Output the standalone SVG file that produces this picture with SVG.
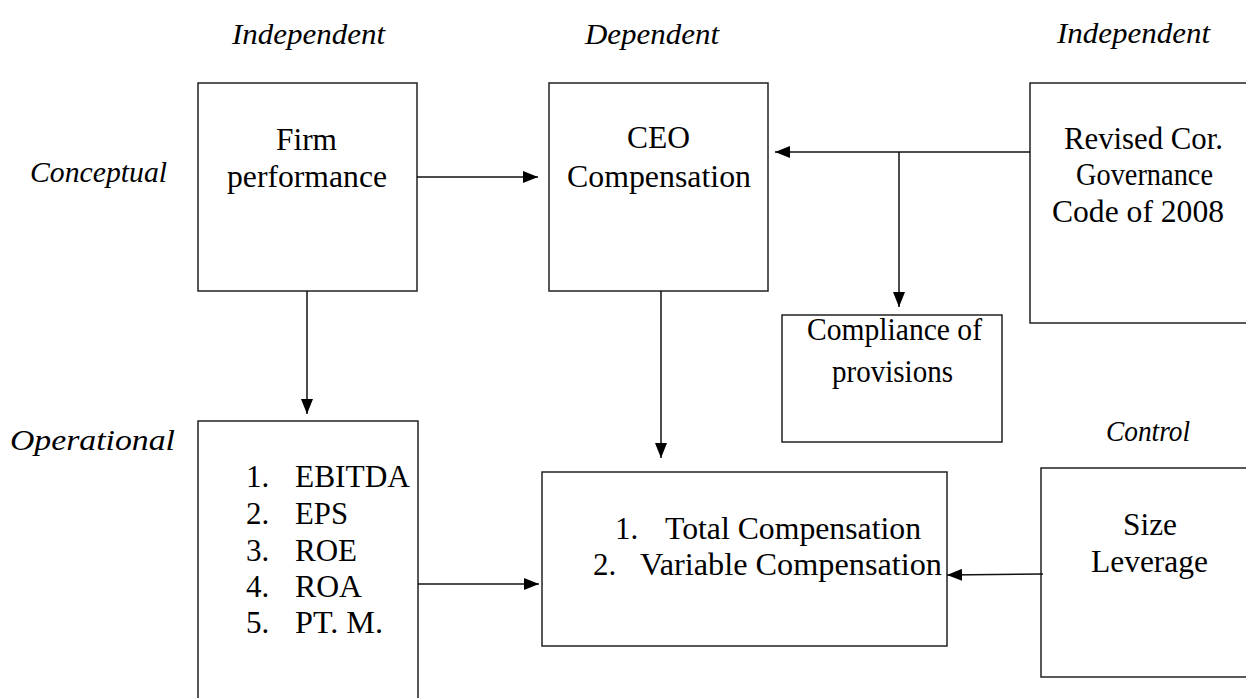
<svg xmlns="http://www.w3.org/2000/svg" width="1246" height="698" viewBox="0 0 1246 698">
<defs>
<marker id="arr" markerWidth="15" markerHeight="12" refX="15" refY="6" orient="auto" markerUnits="userSpaceOnUse">
<path d="M0,0 L15,6 L0,12 Z" fill="#000"/>
</marker>
<style>
.box{fill:#fff;stroke:#222;stroke-width:1.5}
.t{font-family:"Liberation Serif","Times New Roman",serif;font-size:31px;fill:#000}
.c{text-anchor:middle}
.i{font-family:"Liberation Serif","Times New Roman",serif;font-size:30px;font-style:italic;fill:#000}
.ln{stroke:#111;stroke-width:1.5;fill:none}
</style>
</defs>
<rect width="1246" height="698" fill="#fff"/>
<g id="labels">
<text class="i" x="232" y="44" textLength="153" lengthAdjust="spacingAndGlyphs">Independent</text>
<text class="i" x="585" y="44" textLength="134" lengthAdjust="spacingAndGlyphs">Dependent</text>
<text class="i" x="1057" y="43" textLength="153" lengthAdjust="spacingAndGlyphs">Independent</text>
<text class="i" x="30" y="182" textLength="137" lengthAdjust="spacingAndGlyphs">Conceptual</text>
<text class="i" x="10" y="450" textLength="165" lengthAdjust="spacingAndGlyphs">Operational</text>
<text class="i" x="1106" y="441" textLength="84" lengthAdjust="spacingAndGlyphs">Control</text>
</g>
<g id="firm">
<rect class="box" x="198" y="83" width="219" height="208"/>
<text class="t" x="276" y="150" textLength="61" lengthAdjust="spacingAndGlyphs">Firm</text>
<text class="t" x="227" y="187" textLength="160" lengthAdjust="spacingAndGlyphs">performance</text>
</g>
<g id="ceo">
<rect class="box" x="549" y="83" width="219" height="208"/>
<text class="t" x="627" y="148" textLength="63" lengthAdjust="spacingAndGlyphs">CEO</text>
<text class="t" x="567" y="187" textLength="184" lengthAdjust="spacingAndGlyphs">Compensation</text>
</g>
<g id="revised">
<rect class="box" x="1030" y="83" width="230" height="240"/>
<text class="t" x="1064" y="149" textLength="159" lengthAdjust="spacingAndGlyphs">Revised Cor.</text>
<text class="t" x="1076" y="185" textLength="137" lengthAdjust="spacingAndGlyphs">Governance</text>
<text class="t" x="1052" y="222" textLength="172" lengthAdjust="spacingAndGlyphs">Code of 2008</text>
</g>
<g id="compliance">
<rect class="box" x="782" y="315" width="220" height="127"/>
<text class="t" x="807" y="340" textLength="175" lengthAdjust="spacingAndGlyphs">Compliance of</text>
<text class="t" x="832" y="382" textLength="121" lengthAdjust="spacingAndGlyphs">provisions</text>
</g>
<g id="operational">
<rect class="box" x="198" y="421" width="220" height="300"/>
<text class="t" x="246" y="487">1.</text><text class="t" x="295" y="487" textLength="115" lengthAdjust="spacingAndGlyphs">EBITDA</text>
<text class="t" x="246" y="524">2.</text><text class="t" x="295" y="524" textLength="53" lengthAdjust="spacingAndGlyphs">EPS</text>
<text class="t" x="246" y="561">3.</text><text class="t" x="295" y="561" textLength="62" lengthAdjust="spacingAndGlyphs">ROE</text>
<text class="t" x="246" y="597">4.</text><text class="t" x="295" y="597" textLength="67" lengthAdjust="spacingAndGlyphs">ROA</text>
<text class="t" x="246" y="633">5.</text><text class="t" x="295" y="633" textLength="88" lengthAdjust="spacingAndGlyphs">PT. M.</text>
</g>
<g id="total">
<rect class="box" x="542" y="472" width="405" height="174"/>
<text class="t" x="615" y="539">1.</text><text class="t" x="665" y="539" textLength="256" lengthAdjust="spacingAndGlyphs">Total Compensation</text>
<text class="t" x="593" y="575">2.</text><text class="t" x="640" y="575" textLength="302" lengthAdjust="spacingAndGlyphs">Variable Compensation</text>
</g>
<g id="size">
<rect class="box" x="1041" y="468" width="220" height="209"/>
<text class="t" x="1123" y="535" textLength="54" lengthAdjust="spacingAndGlyphs">Size</text>
<text class="t" x="1091" y="572" textLength="117" lengthAdjust="spacingAndGlyphs">Leverage</text>
</g>
<g id="connectors">
<line class="ln" x1="417" y1="177" x2="538" y2="177" marker-end="url(#arr)"/>
<line class="ln" x1="1030" y1="152" x2="775" y2="152" marker-end="url(#arr)"/>
<line class="ln" x1="899" y1="152" x2="899" y2="307" marker-end="url(#arr)"/>
<line class="ln" x1="307" y1="291" x2="307" y2="414" marker-end="url(#arr)"/>
<line class="ln" x1="661" y1="291" x2="661" y2="458" marker-end="url(#arr)"/>
<line class="ln" x1="418" y1="584" x2="539" y2="584" marker-end="url(#arr)"/>
<line class="ln" x1="1043" y1="574" x2="947" y2="575" marker-end="url(#arr)"/>
</g>
</svg>
